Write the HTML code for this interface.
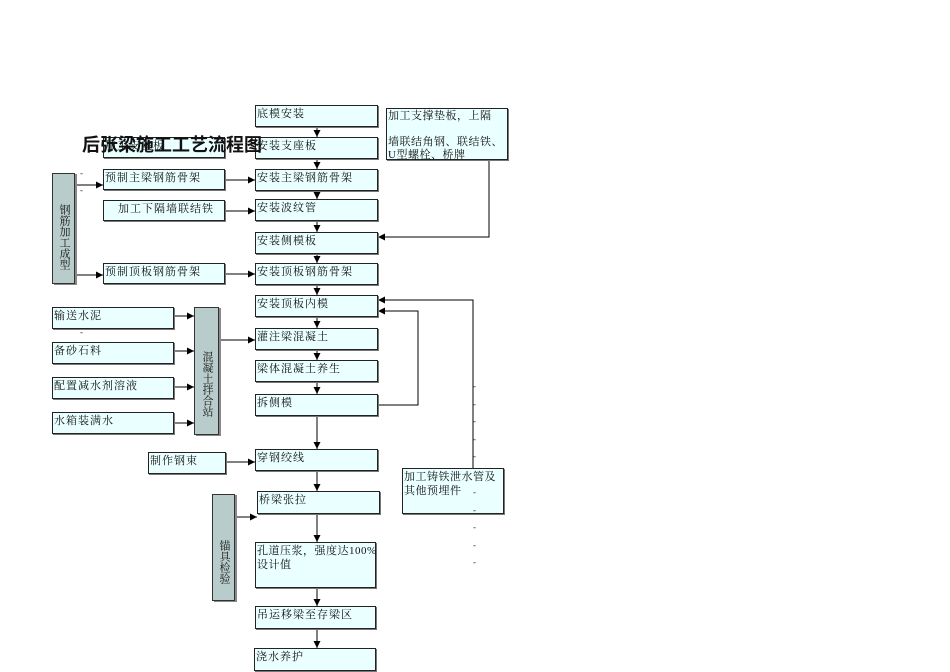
<!DOCTYPE html>
<html><head><meta charset="utf-8"><style>
body{margin:0;width:950px;height:672px;background:#fff;position:relative;overflow:hidden;font-family:"Liberation Serif","Noto Serif CJK SC","Noto Sans CJK SC",serif;}
.b{position:absolute;background:#eaffff;border:1px solid #222;box-shadow:1px 1px 0 #777;font-size:11px;line-height:14px;padding:1px 0 0 1px;box-sizing:border-box;white-space:nowrap;overflow:visible;color:#111;letter-spacing:1px;}
.g{position:absolute;background:#b9cccc;border:1px solid #333;box-shadow:2px 1px 0 #888;font-size:11px;line-height:13px;text-align:center;box-sizing:border-box;padding-top:18px;writing-mode:vertical-rl;color:#111;}
.t{position:absolute;left:82px;top:131px;font-size:18px;font-weight:bold;font-family:"Liberation Sans","Noto Sans CJK SC",sans-serif;color:#111;white-space:nowrap;}
svg{position:absolute;left:0;top:0}
.d{position:absolute;font-size:9px;color:#333}
</style></head><body>
<svg width="950" height="672"><defs><marker id="a" markerWidth="8" markerHeight="8" refX="7" refY="4" orient="auto" markerUnits="userSpaceOnUse"><path d="M0,0.5 L7,4 L0,7.5z" fill="#000"/></marker></defs>
<g stroke="#000" stroke-width="1" fill="none" marker-end="url(#a)">
<line x1="317" y1="127" x2="317" y2="137"/>
<line x1="317" y1="159" x2="317" y2="169"/>
<line x1="317" y1="191" x2="317" y2="199"/>
<line x1="317" y1="221" x2="317" y2="232"/>
<line x1="317" y1="254" x2="317" y2="263"/>
<line x1="317" y1="285" x2="317" y2="295"/>
<line x1="317" y1="317" x2="317" y2="328"/>
<line x1="317" y1="350" x2="317" y2="360"/>
<line x1="317" y1="382" x2="317" y2="394"/>
<line x1="317" y1="416" x2="317" y2="449"/>
<line x1="317" y1="471" x2="317" y2="491"/>
<line x1="317" y1="514" x2="317" y2="542"/>
<line x1="317" y1="588" x2="317" y2="606"/>
<line x1="317" y1="629" x2="317" y2="648"/>
<line x1="225" y1="180" x2="255" y2="180"/>
<line x1="225" y1="211" x2="255" y2="211"/>
<line x1="225" y1="274" x2="255" y2="274"/>
<polyline points="75,185 103,185"/>
<polyline points="75,275 103,275"/>
<polyline points="489,160 489,237 378,237"/>
<polyline points="378,405 418,405 418,311 378,311"/>
<polyline points="473,468 473,300 378,300"/>
<line x1="174" y1="316" x2="194" y2="316"/>
<line x1="174" y1="351" x2="194" y2="351"/>
<line x1="174" y1="387" x2="194" y2="387"/>
<line x1="174" y1="423" x2="194" y2="423"/>
<line x1="219" y1="340" x2="255" y2="340"/>
<line x1="226" y1="462" x2="255" y2="462"/>
<line x1="235" y1="517" x2="257" y2="517"/>
</g></svg>
<div class="b" style="left:255px;top:105px;width:123px;height:22px">底模安装</div>
<div class="b" style="left:255px;top:137px;width:123px;height:22px">安装支座板</div>
<div class="b" style="left:255px;top:169px;width:123px;height:22px">安装主梁钢筋骨架</div>
<div class="b" style="left:255px;top:199px;width:123px;height:22px">安装波纹管</div>
<div class="b" style="left:255px;top:232px;width:123px;height:22px">安装侧模板</div>
<div class="b" style="left:255px;top:263px;width:123px;height:22px">安装顶板钢筋骨架</div>
<div class="b" style="left:255px;top:295px;width:123px;height:22px">安装顶板内模</div>
<div class="b" style="left:255px;top:328px;width:123px;height:22px">灌注梁混凝土</div>
<div class="b" style="left:255px;top:360px;width:123px;height:22px">梁体混凝土养生</div>
<div class="b" style="left:255px;top:394px;width:123px;height:22px">拆侧模</div>
<div class="b" style="left:255px;top:449px;width:123px;height:22px">穿钢绞线</div>
<div class="b" style="left:257px;top:491px;width:123px;height:23px">桥梁张拉</div>
<div class="b" style="left:255px;top:542px;width:121px;height:46px;letter-spacing:0.5px">孔道压浆，强度达100%<br>设计值</div>
<div class="b" style="left:255px;top:606px;width:121px;height:23px">吊运移梁至存梁区</div>
<div class="b" style="left:254px;top:648px;width:122px;height:23px">浇水养护</div>
<div class="b" style="left:386px;top:108px;width:122px;height:52px;line-height:13px;letter-spacing:0.5px">加工支撑垫板，上隔<br><br>墙联结角钢、联结铁、<br>U型螺栓、桥牌</div>
<div class="b" style="left:402px;top:468px;width:102px;height:46px;letter-spacing:0.5px">加工铸铁泄水管及<br>其他预埋件</div>
<div class="b" style="left:103px;top:137px;width:122px;height:21px">加工支座板</div>
<div class="b" style="left:103px;top:169px;width:122px;height:21px">预制主梁钢筋骨架</div>
<div class="b" style="left:103px;top:200px;width:122px;height:21px;padding-left:14px">加工下隔墙联结铁</div>
<div class="b" style="left:103px;top:263px;width:122px;height:21px">预制顶板钢筋骨架</div>
<div class="b" style="left:52px;top:307px;width:122px;height:22px">输送水泥</div>
<div class="b" style="left:52px;top:342px;width:122px;height:22px">备砂石料</div>
<div class="b" style="left:52px;top:377px;width:122px;height:22px">配置减水剂溶液</div>
<div class="b" style="left:52px;top:412px;width:122px;height:22px">水箱装满水</div>
<div class="b" style="left:148px;top:452px;width:78px;height:22px">制作钢束</div>
<div class="g" style="left:52px;top:173px;width:23px;height:111px;padding-top:16px;padding-right:4px">钢筋加工成型</div>
<div class="g" style="left:194px;top:307px;width:25px;height:128px;padding-top:25px;padding-right:5px">混凝土拌合站</div>
<div class="g" style="left:212px;top:494px;width:23px;height:107px;padding-top:28px;padding-right:4px">锚具检验</div>
<div class="t">后张梁施工工艺流程图</div>
<div class="d" style="left:80px;top:168px">-</div><div class="d" style="left:80px;top:185px">-</div>
<div class="d" style="left:80px;top:327px">-</div>
<div class="d" style="left:473px;top:378px;line-height:17.5px">-<br>-<br>-<br>-<br>-</div>
<div class="d" style="left:473px;top:484px;line-height:17.5px">-<br>-<br>-<br>-<br>-</div>
</body></html>
